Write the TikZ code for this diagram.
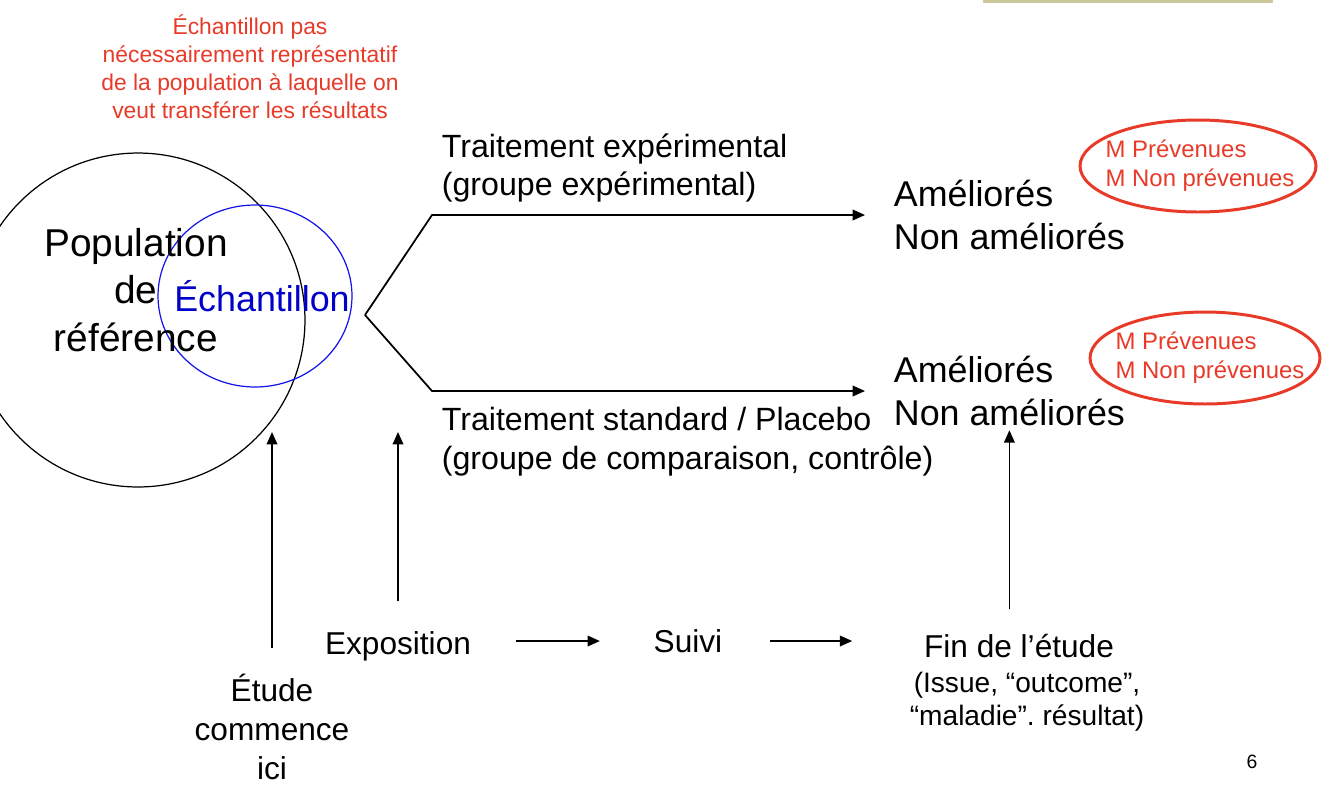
\documentclass[tikz,border=0pt]{standalone}
\usepackage{fontspec}
\setmainfont{Liberation Sans}
\usetikzlibrary{arrows.meta, positioning}
\definecolor{notered}{RGB}{232,58,40}
\definecolor{sampleblue}{RGB}{20,20,235}
\definecolor{samptext}{RGB}{0,0,200}
\definecolor{barbeige}{RGB}{203,201,155}
\frenchspacing

\begin{document}
\begin{tikzpicture}[
        x=0.02cm, y=-0.02cm,
        every node/.style={inner sep=2pt},
        lbl/.style={font=\fontsize{18}{22}\selectfont, align=left},
        trt/.style={font=\fontsize{18.3}{22}\selectfont, align=left, anchor=west},
        res/.style={font=\fontsize{20.4}{25}\selectfont, align=left, anchor=west},
        note/.style={text=notered, font=\fontsize{13}{15.9}\selectfont, align=center},
        mnote/.style={text=notered, font=\fontsize{13.6}{16.4}\selectfont, align=left},
        ring/.style={draw=notered, line width=1.7pt},
        arrow/.style={-{Triangle[length=7pt, width=6pt]}, line width=1pt}
    ]
    \useasboundingbox (0,0) rectangle (1334,792);
    \clip (0,0) rectangle (1334,792);

    % Shapes
    \fill[barbeige] (983,-5) rectangle (1273,3);
    \draw[line width=0.7pt] (138,320) circle [radius=3.34cm];
    \draw[sampleblue, line width=0.7pt] (255,296) ellipse [x radius=1.94cm, y radius=1.82cm];
    \draw[ring] (1198,166) ellipse [x radius=2.36cm, y radius=0.92cm];
    \draw[ring] (1205,358) ellipse [x radius=2.30cm, y radius=0.92cm];

    % Nodes
    \node[font=\fontsize{22.1}{27.2}\selectfont, align=center] (pop) at (136,290) {Population\\de\\référence};
    \node[text=samptext, font=\fontsize{20.4}{24}\selectfont] (samp) at (262,296) {Échantillon};
    \node[note] (warn) at (250,67) {Échantillon pas\\nécessairement représentatif\\de la population à laquelle on\\veut transférer les résultats};
    \node[trt] (trtexp) at (438,168) {Traitement expérimental\\(groupe expérimental)};
    \node[trt] (trtstd) at (438,442) {Traitement standard / Placebo\\(groupe de comparaison, contrôle)};
    \node[res] (resexp) at (890,215) {Améliorés\\Non améliorés};
    \node[res] (resstd) at (890,391) {Améliorés\\Non améliorés};
    \node[mnote] (mexp) at (1200,166) {M Prévenues\\M Non prévenues};
    \node[mnote] (mstd) at (1210,358) {M Prévenues\\M Non prévenues};
    \node[lbl, align=center] (debut) at (272,727) {Étude\\commence\\ici};
    \node[lbl] (expo) at (398,646) {Exposition};
    \node[lbl] (suivi) at (688,641) {Suivi};
    \node[lbl] (fin) at (1019,646) {Fin de l’étude};
    \node[font=\fontsize{16}{18.7}\selectfont, align=center] (issue) at (1027,702) {(Issue, “outcome”,\\“maladie”. résultat)};
    \node[font=\fontsize{11}{13}\selectfont] (page) at (1252,762) {6};

    % Arrows
    \coordinate (apex) at (365,315);
    \coordinate (kink) at (432,0);
    \coordinate (tippop) at (272,432);
    \coordinate (tipexpo) at (397,432);
    \draw[arrow, shorten >=0.5cm] (apex) -- (resexp.west -| kink) -- (resexp.west);
    \draw[arrow, shorten >=0.5cm] (apex) -- (resstd.west -| kink) -- (resstd.west);
    \draw[arrow, shorten <=0.46cm] (debut) -- (tippop);
    \draw[arrow, shorten <=0.52cm] (expo.north) -- (expo.north |- tipexpo);
    \draw[arrow, shorten <=0.42cm] (fin.north -| resstd.south) -- (resstd.south);
    \draw[arrow, shorten <=0.82cm, shorten >=1cm] (suivi.west -| expo.east) -- (suivi.west);
    \draw[arrow, shorten <=0.88cm, shorten >=1.36cm] (suivi.east) -- (suivi.east -| fin.west);

\end{tikzpicture}
\end{document}
